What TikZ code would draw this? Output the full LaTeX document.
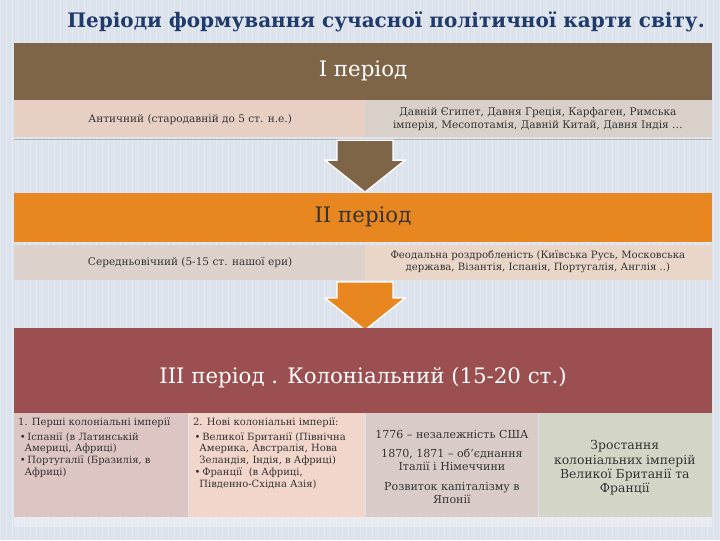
\documentclass[tikz,border=0pt]{standalone}
\usepackage{fontspec}
\setmainfont{DejaVu Serif}
\newfontfamily\titlefont{DejaVu Serif}
\usetikzlibrary{positioning}
\definecolor{bg}{HTML}{DDE3EC}
\definecolor{ttl}{HTML}{1F3A6B}
\definecolor{brn}{HTML}{7F6548}
\definecolor{org}{HTML}{E8861F}
\definecolor{red3}{HTML}{9B4F50}
\definecolor{pk1}{HTML}{E8CFC4}
\definecolor{gr1}{HTML}{D9D0C9}
\definecolor{pk2}{HTML}{DDD2CB}
\definecolor{gr2}{HTML}{E9D6C8}
\definecolor{c1}{HTML}{DDC5C4}
\definecolor{c2}{HTML}{F3D6CB}
\definecolor{c3}{HTML}{D9CCC8}
\definecolor{c4}{HTML}{D3D6C6}
\tikzset{
 cell/.style={inner sep=3pt,align=center,font=\fontsize{7.9}{9.2}\selectfont,text=black!80},
 col/.style={inner sep=2pt,anchor=north west,align=left,font=\fontsize{7.5}{8.9}\selectfont,text=black!80},
 head/.style={align=center,text=white,font=\fontsize{16}{18}\selectfont}
}
\begin{document}
\begin{tikzpicture}[x=0.75pt,y=-0.75pt]
\fill[bg] (0,0) rectangle (720,540);
\foreach \i in {0,6,...,720} \draw[white,opacity=0.25,line width=0.4pt] (\i,0)--(\i,540);
\node[font=\titlefont\bfseries\fontsize{15}{17}\selectfont,text=ttl] (title) at (386,22) {Періоди формування сучасної політичної карти світу.};
% Box I
\fill[brn] (14,43) rectangle (712,100);
\node[head] (h1) at (363,71) {І період};
\fill[pk1] (14,100) rectangle (365,137);
\fill[gr1] (365,100) rectangle (712,137);
\draw[gray!60,line width=1pt] (14,139)--(712,139);
\node[cell] (a1) at (190,119) {Античний (стародавній до 5 ст. н.е.)};
\node[cell] (b1) at (538,119) {Давній Єгипет, Давня Греція, Карфаген, Римська\\імперія, Месопотамія, Давній Китай, Давня Індія …};
% arrow 1
\fill[brn,draw=white,line width=1pt] (337,140)--(393,140)--(393,160)--(405,160)--(365,192)--(325,160)--(337,160)--cycle;
% Box II
\fill[org] (14,193) rectangle (712,242);
\node[head,text=black!80] (h2) at (363,217) {ІІ період};
\fill[pk2] (14,245) rectangle (365,280);
\fill[gr2] (365,245) rectangle (712,280);
\node[cell] (a2) at (190,262) {Середньовічний (5-15 ст. нашої ери)};
\node[cell,font=\fontsize{7.6}{9}\selectfont] (b2) at (538,262) {Феодальна роздробленість (Київська Русь, Московська\\держава, Візантія, Іспанія, Португалія, Англія ..)};
% arrow 2
\fill[org,draw=white,line width=1pt] (337,282)--(393,282)--(393,298)--(405,298)--(365,330)--(325,298)--(337,298)--cycle;
% Box III
\fill[red3] (14,328) rectangle (712,413);
\node[head] (h3) at (363,378) {ІІІ період . Колоніальний (15-20 ст.)};
\fill[c1] (14,413) rectangle (188,517);
\fill[c2] (189,413) rectangle (365,517);
\fill[c3] (366,413) rectangle (538,517);
\fill[c4] (539,413) rectangle (712,517);
\fill[white,opacity=0.3] (14,517) rectangle (712,527);
\node[col] (c1t) at (15,415) {1. Перші колоніальні імперії\\[2pt]
\,\textbullet\,Іспанії (в Латинській\\\ \ Америці, Африці)\\
\,\textbullet\,Португалії (Бразилія, в\\\ \ Африці)};
\node[col] (c2t) at (190,415) {2. Нові колоніальні імперії:\\[2pt]
\,\textbullet\,Великої Британії (Північна\\\ \ Америка, Австралія, Нова\\\ \ Зеландія, Індія, в Африці)\\
\,\textbullet\,Франції \ (в Африці,\\\ \ Південно-Східна Азія)};
\node[cell,align=center,font=\fontsize{8.3}{9.8}\selectfont] (c3t) at (452,467) {1776 – незалежність США\\[5pt]1870, 1871 – об’єднання\\Італії і Німеччини\\[5pt]Розвиток капіталізму в\\Японії};
\node[cell,font=\fontsize{9.3}{10.8}\selectfont] (c4t) at (625,468) {Зростання\\колоніальних імперій\\Великої Британії та\\Франції};
\end{tikzpicture}
\end{document}
